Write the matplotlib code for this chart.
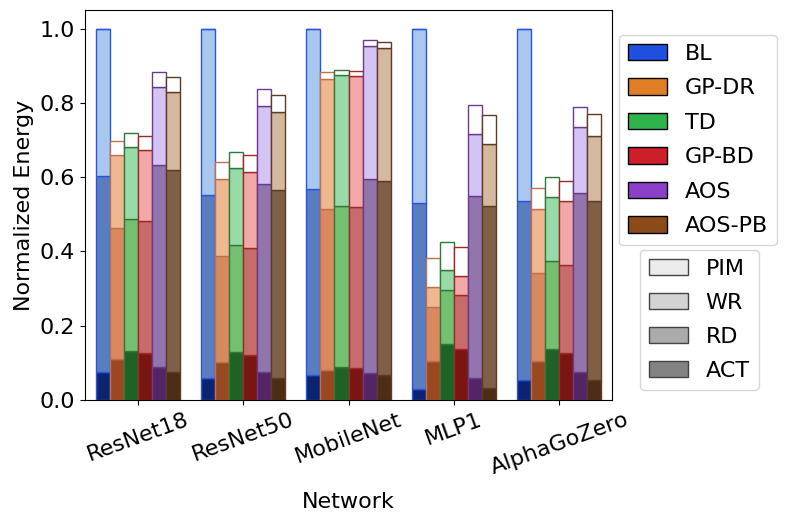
import matplotlib
matplotlib.use('Agg')
import matplotlib.pyplot as plt
import numpy as np
from matplotlib.patches import Patch

networks = ['ResNet18', 'ResNet50', 'MobileNet', 'MLP1', 'AlphaGoZero']
configs = ['BL', 'GP-DR', 'TD', 'GP-BD', 'AOS', 'AOS-PB']
parts = ['PIM', 'WR', 'RD', 'ACT']

# segment heights, one row per config, one column per network
act = [
    [0.075, 0.058, 0.066, 0.030, 0.055],
    [0.110, 0.101, 0.080, 0.104, 0.105],
    [0.133, 0.128, 0.088, 0.150, 0.137],
    [0.126, 0.120, 0.085, 0.136, 0.127],
    [0.089, 0.075, 0.072, 0.060, 0.075],
    [0.076, 0.059, 0.066, 0.031, 0.055],
]
rd = [
    [0.527, 0.494, 0.503, 0.501, 0.481],
    [0.354, 0.288, 0.434, 0.146, 0.236],
    [0.354, 0.289, 0.435, 0.146, 0.237],
    [0.355, 0.289, 0.435, 0.146, 0.236],
    [0.543, 0.506, 0.524, 0.490, 0.483],
    [0.542, 0.506, 0.524, 0.490, 0.482],
]
wr = [
    [0.398, 0.448, 0.431, 0.469, 0.464],
    [0.195, 0.206, 0.351, 0.054, 0.174],
    [0.193, 0.207, 0.351, 0.053, 0.172],
    [0.192, 0.205, 0.351, 0.052, 0.174],
    [0.210, 0.210, 0.356, 0.167, 0.176],
    [0.211, 0.210, 0.357, 0.167, 0.175],
]
pim = [
    [0.000, 0.000, 0.000, 0.000, 0.000],
    [0.037, 0.046, 0.017, 0.077, 0.055],
    [0.039, 0.043, 0.015, 0.076, 0.054],
    [0.039, 0.046, 0.016, 0.077, 0.053],
    [0.040, 0.045, 0.017, 0.077, 0.054],
    [0.041, 0.046, 0.017, 0.080, 0.057],
]

base_colors = ['#1f4fdf', '#e07f25', '#2fb34a', '#cc1f2a', '#8a40c8', '#8b4a17']
act_colors = ['#0c2470', '#9a4820', '#1e6325', '#7a1612', '#532566', '#4c2d15']
rd_colors = ['#5a7dc0', '#d8895e', '#74c070', '#c86b6b', '#9275ad', '#7f5f45']
wr_colors = ['#aac8ee', '#f0b890', '#98dba8', '#f3a8a8', '#d4c4f4', '#d4b8a0']
edge_colors = ['#2a55e0', '#c0704c', '#2e7a3a', '#a02828', '#6a3a90', '#5c3c22']
part_greys = ['#ebebeb', '#d3d3d3', '#ababab', '#838383']

fig = plt.figure(figsize=(7.89, 5.21), dpi=100)
ax = fig.add_axes([85 / 789, 1 - 400 / 521, 527 / 789, 390 / 521])

x = np.arange(len(networks))
w = 0.8 / len(configs)
for i, cfg in enumerate(configs):
    xs = x + (i - 2.5) * w
    a = np.array(act[i])
    r = np.array(rd[i])
    wv = np.array(wr[i])
    p = np.array(pim[i])
    ec = edge_colors[i]
    ax.bar(xs, a, w, color=act_colors[i], edgecolor=ec, lw=1)
    ax.bar(xs, r, w, bottom=a, color=rd_colors[i], edgecolor=ec, lw=1)
    ax.bar(xs, wv, w, bottom=a + r, color=wr_colors[i], edgecolor=ec, lw=1)
    ax.bar(xs, p, w, bottom=a + r + wv, color='white', edgecolor=ec, lw=1)

ax.set_xlim(-0.5, len(networks) - 0.5)
ax.set_ylim(0, 1.05)
ax.set_xticks(x)
ax.set_xticklabels(networks, rotation=20, ha='center', fontsize=16)
ax.set_yticks(np.arange(0, 1.01, 0.2))
ax.tick_params(axis='y', labelsize=16)
ax.set_xlabel('Network', fontsize=16, labelpad=10)
ax.set_ylabel('Normalized Energy', fontsize=16)

h1 = [Patch(facecolor=c, edgecolor='black', label=l) for c, l in zip(base_colors, configs)]
h2 = [Patch(facecolor=c, edgecolor='#444444', label=l) for c, l in zip(part_greys, parts)]
fig.legend(handles=h1, loc='upper left', bbox_to_anchor=(619 / 789, 1 - 35 / 521),
           borderaxespad=0, fontsize=16, handlelength=1.75, handleheight=0.75,
           labelspacing=0.65)
fig.legend(handles=h2, loc='upper left', bbox_to_anchor=(640 / 789, 1 - 250 / 521),
           borderaxespad=0, fontsize=16, handlelength=1.75, handleheight=0.75,
           labelspacing=0.63)

fig.savefig('out.png', dpi=100)
